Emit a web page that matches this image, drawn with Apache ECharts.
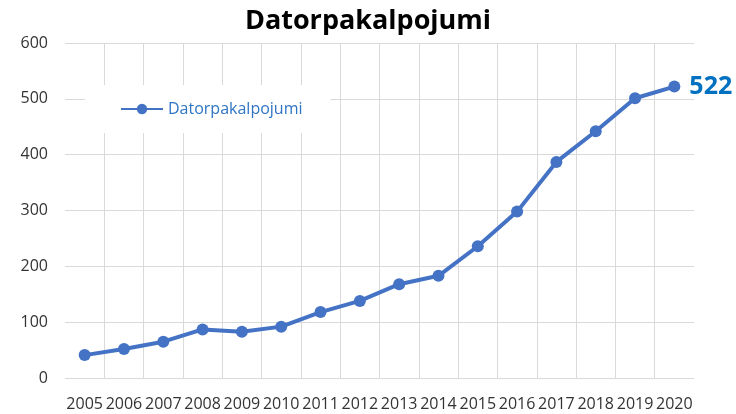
<!DOCTYPE html>
<html>
<head>
	<meta charset="UTF-8">
	<title>Datorpakalpojumi</title>
	<script src="https://cdn.jsdelivr.net/npm/echarts@6/dist/echarts.min.js"></script>
	<style>
		html, body { margin: 0; padding: 0; background: #fff; }
		#container { width: 736px; height: 414px; }
	</style>
</head>
<body>
<div id="container"></div>
<script>
	var years = ['2005', '2006', '2007', '2008', '2009', '2010', '2011', '2012',
		'2013', '2014', '2015', '2016', '2017', '2018', '2019', '2020'];
	var values = [41, 52, 65, 87, 83, 92, 118, 138, 168, 183, 236, 298, 387, 442, 501, 522];
	var yTicks = [0, 100, 200, 300, 400, 500, 600];
	var seriesName = 'Datorpakalpojumi';

	var myChart = echarts.init(document.getElementById('container'));
	var font = '"Open Sans", "Liberation Sans", sans-serif';

	var option = {
		animation: false,
		title: {
			text: seriesName,
			left: 'center',
			top: 3,
			textStyle: { fontSize: 27, fontWeight: 'bold', color: '#000', fontFamily: font }
		},
		legend: {
			data: [seriesName],
			left: 85,
			top: 85,
			padding: [16, 28, 16, 35],
			backgroundColor: '#fff',
			itemWidth: 42,
			itemHeight: 13,
			itemGap: 4,
			textStyle: { color: '#2e75c4', fontSize: 16, fontFamily: font }
		},
		grid: { left: 65, right: 42, top: 43, bottom: 36 },
		xAxis: {
			type: 'category',
			data: years,
			boundaryGap: true,
			axisLine: { show: false },
			axisTick: { show: false },
			axisLabel: { interval: 0, color: '#333', fontSize: 16, margin: 18, fontFamily: font },
			splitLine: { show: true, showMinLine: false, showMaxLine: false, interval: 0, lineStyle: { color: '#d9d9d9' } }
		},
		yAxis: {
			type: 'value',
			min: yTicks[0],
			max: yTicks[yTicks.length - 1],
			interval: 100,
			axisLine: { show: false },
			axisTick: { show: false },
			axisLabel: { color: '#333', fontSize: 16, margin: 17, fontFamily: font },
			splitLine: { lineStyle: { color: '#d9d9d9' } }
		},
		series: [{
			name: seriesName,
			type: 'line',
			data: values.map(function (v, i) {
				if (i === values.length - 1) {
					return {
						value: v,
						label: {
							show: true, position: 'right', distance: 9,
							color: '#0070c0', fontSize: 25, fontWeight: 'bold', fontFamily: font
						}
					};
				}
				return v;
			}),
			symbol: 'circle',
			symbolSize: 12,
			color: '#4472c4',
			lineStyle: { width: 4, color: '#4472c4' },
			itemStyle: { color: '#4472c4' }
		}]
	};
	myChart.setOption(option);
</script>
</body>
</html>
